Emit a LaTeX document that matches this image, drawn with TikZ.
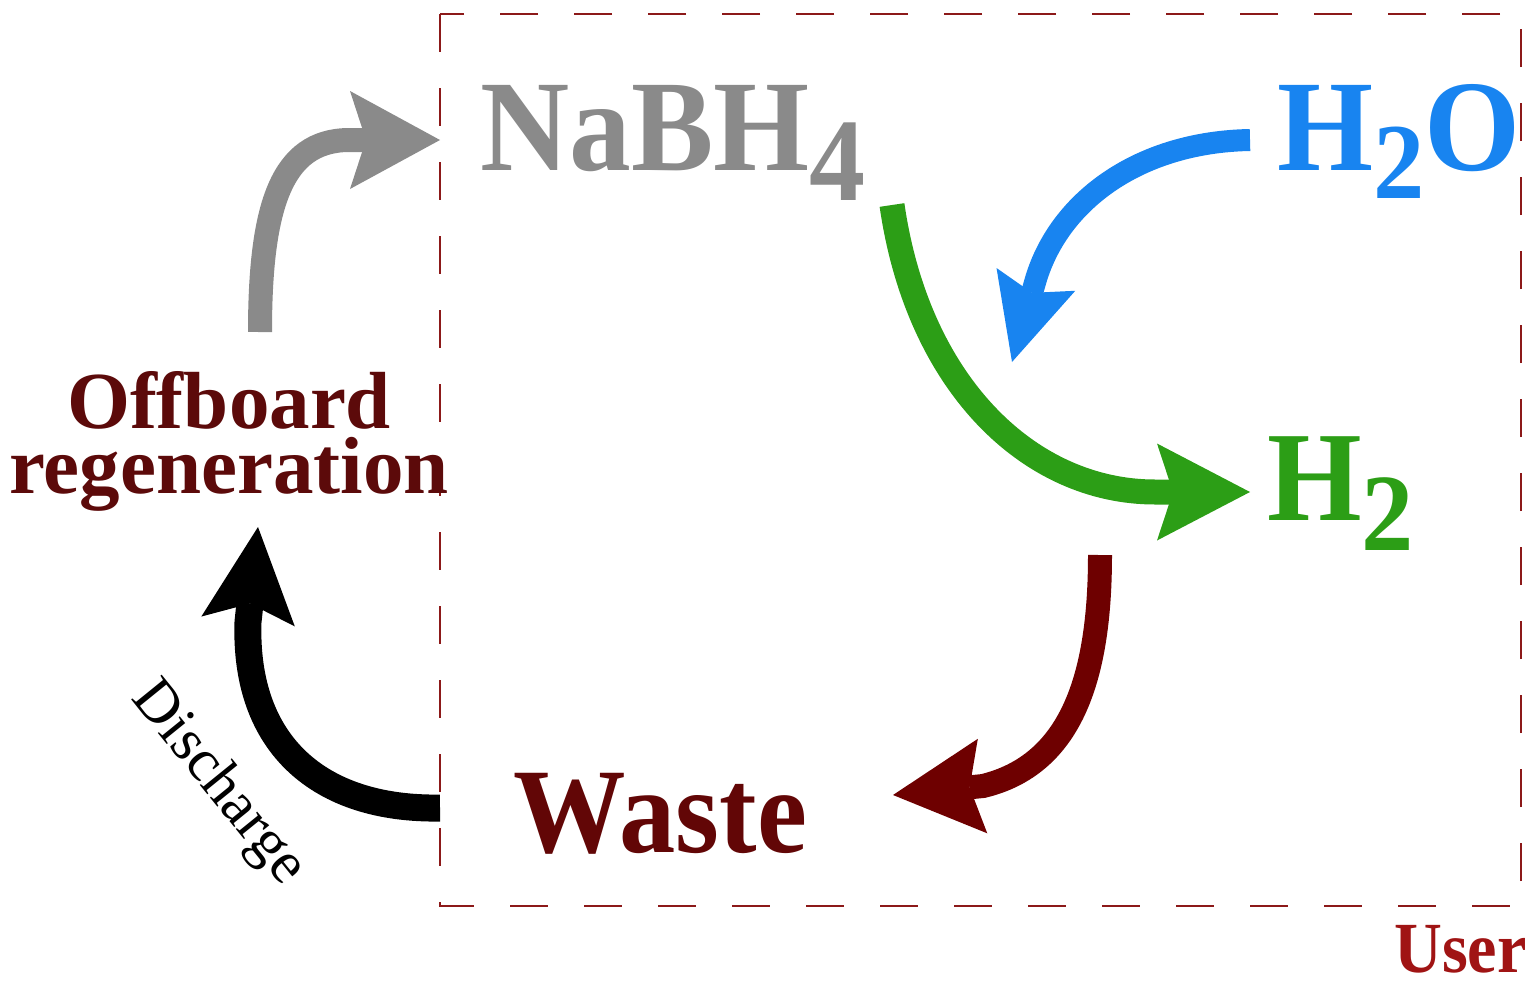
\documentclass[tikz,border=0pt]{standalone}
\usepackage{fontspec}
\usepackage{graphicx}
\setmainfont{Liberation Serif}
\usetikzlibrary{arrows.meta}
\definecolor{cgray}{RGB}{138,138,138}
\definecolor{cblue}{RGB}{24,132,240}
\definecolor{cgreen}{RGB}{44,158,22}
\definecolor{cwaste}{RGB}{98,6,6}
\definecolor{cwastearrow}{RGB}{110,0,0}
\definecolor{coff}{RGB}{92,10,10}
\definecolor{cuser}{RGB}{160,20,20}
\definecolor{cbox}{RGB}{140,25,25}
\newcommand{\fs}[1]{\fontsize{#1}{#1}\selectfont}
\newcommand{\hsq}[2][0.95]{\scalebox{#1}[1]{#2}}
\tikzset{
  lbl/.style={inner sep=0pt, font=\bfseries},
  userbox/.style={draw=cbox, line width=2.2pt, dash pattern=on 38pt off 36pt},
  fat/.style n args={5}{line width=#1, -{Stealth[length=#2 0 0, width=#3 0 0, inset=#4 0 0, line width=0pt 0 0]}, draw=#5},
}
\begin{document}
\begin{tikzpicture}[x=1pt,y=-1pt]
\useasboundingbox (0,0) rectangle (1534,980);

% user boundary
\draw[userbox] (440,14) rectangle (1521,906);

% labels
\node[lbl, text=cgray, anchor=base west] (nabh) at (480,170)
  {\hsq{\fs{130}NaBH\raisebox{-30pt}{\fs{118}4}}};
\node[lbl, text=cblue, anchor=base west] (hwo) at (1277,170)
  {\hsq{\fs{130}H\raisebox{-28pt}{\fs{108}2}O}};
\node[lbl, text=cgreen, anchor=base west] (htwo) at (1267,520)
  {\hsq{\fs{128}H\raisebox{-30pt}{\fs{110}2}}};
\node[lbl, text=cwaste, anchor=base west] (waste) at (513,852)
  {\hsq[0.93]{\fs{121}Waste}};
\node[inner sep=0pt, text=coff, anchor=north, align=center, font={\bfseries\fontsize{81}{65}\selectfont}] (off) at (229,371)
  {Offboard\\regeneration};
\node[inner sep=0pt, rotate=-51] (dis) at (218,784) {\fs{60}Discharge};
\node[lbl, text=cuser, anchor=base east] (user) at (1527,972)
  {\hsq[0.92]{\fs{72}User}};

% connector end points
\coordinate (gs) at (260,332);
\coordinate (gm) at (348,140);
\coordinate (gt) at (440,140);
\coordinate (bs) at (440,808);
\coordinate (bm) at (248,622);
\coordinate (bt) at (258,527);
\coordinate (ns) at (892,205);
\coordinate (nm) at (1155,492);
\coordinate (nt) at (1250,492);
\coordinate (ws) at (1250,140);
\coordinate (wm) at (1036,279);
\coordinate (wt) at (1012,362);
\coordinate (rs) at (1100,555);
\coordinate (rm) at (983,786);
\coordinate (rt) at (893,795);

% arrows
\draw[fat={24pt}{90pt}{98pt}{16pt}{cgray}]
  (gs) .. controls (260,205) and (282,141) .. (gm) -- (gt);
\draw[fat={27pt}{95pt}{94pt}{18pt}{black}]
  (bs) .. controls (320,810) and (244,745) .. (bm) -- (bt);
\draw[fat={25pt}{93pt}{97pt}{16pt}{cgreen}]
  (ns) .. controls (918,385) and (1030,492) .. (nm) -- (nt);
\draw[fat={22pt}{86pt}{82pt}{14pt}{cblue}]
  (ws) .. controls (1140,142) and (1060,200) .. (wm) -- (wt);
\draw[fat={24pt}{90pt}{95pt}{13pt}{cwastearrow}]
  (rs) .. controls (1100,680) and (1070,765) .. (rm) -- (rt);
\end{tikzpicture}
\end{document}
